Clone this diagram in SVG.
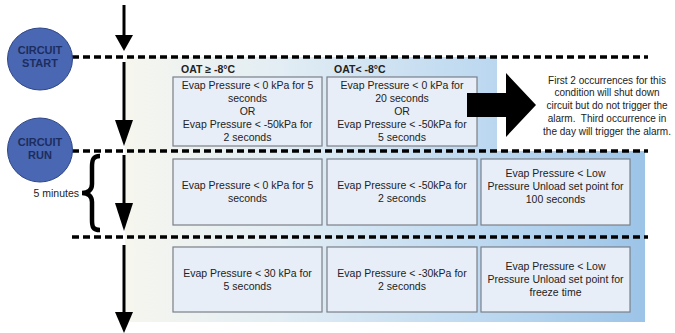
<svg xmlns="http://www.w3.org/2000/svg" width="675" height="333" viewBox="0 0 675 333">
<defs>
<linearGradient id="bg" gradientUnits="userSpaceOnUse" x1="125" y1="0" x2="645" y2="0">
<stop offset="0" stop-color="#f6f6ee"/>
<stop offset="0.3" stop-color="#e2edf4"/>
<stop offset="0.7" stop-color="#bcd8f0"/>
<stop offset="1" stop-color="#9cc4e7"/>
</linearGradient>
<style>
.box{fill:#e8eef7;stroke:#7a7f88;stroke-width:1.2}
.t{font-family:"Liberation Sans",Arial,sans-serif;font-size:10.5px;fill:#222;text-anchor:middle;white-space:pre}
.n{font-family:"Liberation Sans",Arial,sans-serif;font-size:10px;fill:#222;text-anchor:middle;white-space:pre}
.h{font-family:"Liberation Sans",Arial,sans-serif;font-size:10.5px;font-weight:bold;fill:#222}
.c{fill:#4a67b3;stroke:#2f4787;stroke-width:1}
.ct{font-family:"Liberation Sans",Arial,sans-serif;font-size:11px;font-weight:bold;fill:#1d2d5e;text-anchor:middle}
.dash{stroke:#000;stroke-width:3.5;stroke-dasharray:7 4;fill:none}
.shaft{stroke:#000;stroke-width:3;fill:none}
</style>
</defs>
<path d="M125 57 H497 V151 H645 V322 H125 Z" fill="url(#bg)"/>
<g id="connectors">
<line class="dash" x1="72" y1="57" x2="648" y2="57"/>
<line class="dash" x1="72" y1="151" x2="648" y2="151"/>
<line class="dash" x1="72" y1="237" x2="648" y2="237"/>
<line class="shaft" x1="124" y1="5" x2="124" y2="38"/>
<polygon points="115,35 133,35 124,51"/>
<line class="shaft" x1="124" y1="62" x2="124" y2="123"/>
<polygon points="115,120 133,120 124,146"/>
<line class="shaft" x1="124" y1="155" x2="124" y2="206"/>
<polygon points="115,203 133,203 124,231"/>
<line class="shaft" x1="124" y1="245" x2="124" y2="315"/>
<polygon points="115,312 133,312 124,333"/>
<path d="M100 156 C93 156 92 160 92 167 L92 184 C92 190 88 193 82 193 C88 193 92 196 92 202 L92 220 C92 227 93 230 100 230" fill="none" stroke="#000" stroke-width="4.5"/>
</g>
<g id="circuit-start">
<ellipse class="c" cx="40" cy="59" rx="32.5" ry="31"/>
<text class="ct" x="40" y="54">CIRCUIT</text>
<text class="ct" x="40" y="67">START</text>
</g>
<g id="circuit-run">
<ellipse class="c" cx="40" cy="150" rx="32.5" ry="32"/>
<text class="ct" x="40" y="146">CIRCUIT</text>
<text class="ct" x="40" y="159">RUN</text>
</g>
<g id="five-minutes">
<text class="t" x="79" y="197" style="text-anchor:end">5 minutes</text>
</g>
<g id="headers">
<text class="h" x="181" y="73">OAT ≥ -8°C</text>
<text class="h" x="334" y="73">OAT&lt; -8°C</text>
</g>
<g id="r1b1">
<rect class="box" x="173" y="77" width="149" height="69"/>
<text class="t" x="247.5" y="89">Evap Pressure &lt; 0 kPa for 5</text>
<text class="t" x="247.5" y="102">seconds</text>
<text class="t" x="247.5" y="115">OR</text>
<text class="t" x="247.5" y="128">Evap Pressure &lt; -50kPa for</text>
<text class="t" x="247.5" y="141">2 seconds</text>
</g>
<g id="r1b2">
<rect class="box" x="327" y="77" width="150" height="69"/>
<text class="t" x="402" y="89">Evap Pressure &lt; 0 kPa for</text>
<text class="t" x="402" y="102">20 seconds</text>
<text class="t" x="402" y="115">OR</text>
<text class="t" x="402" y="128">Evap Pressure &lt; -50kPa for</text>
<text class="t" x="402" y="141">5 seconds</text>
</g>
<g id="big-arrow">
<polygon points="467,93 506,93 506,73 536,105 506,137 506,117 467,117"/>
</g>
<g id="note">
<text class="n" x="607" y="84">First 2 occurrences for this</text>
<text class="n" x="607" y="96">condition will shut down</text>
<text class="n" x="607" y="109">circuit but do not trigger the</text>
<text class="n" x="607" y="122">alarm.  Third occurrence in</text>
<text class="n" x="607" y="135">the day will trigger the alarm.</text>
</g>
<g id="r2b1">
<rect class="box" x="173" y="159" width="149" height="66"/>
<text class="t" x="247.5" y="189">Evap Pressure &lt; 0 kPa for 5</text>
<text class="t" x="247.5" y="202">seconds</text>
</g>
<g id="r2b2">
<rect class="box" x="327" y="159" width="150" height="66"/>
<text class="t" x="402" y="189">Evap Pressure &lt; -50kPa for</text>
<text class="t" x="402" y="202">2 seconds</text>
</g>
<g id="r2b3">
<rect class="box" x="481" y="159" width="149" height="66"/>
<text class="t" x="555.5" y="177">Evap Pressure &lt; Low</text>
<text class="t" x="555.5" y="190">Pressure Unload set point for</text>
<text class="t" x="555.5" y="203">100 seconds</text>
</g>
<g id="r3b1">
<rect class="box" x="173" y="247" width="149" height="65"/>
<text class="t" x="247.5" y="277">Evap Pressure &lt; 30 kPa for</text>
<text class="t" x="247.5" y="290">5 seconds</text>
</g>
<g id="r3b2">
<rect class="box" x="327" y="247" width="150" height="65"/>
<text class="t" x="402" y="277">Evap Pressure &lt; -30kPa for</text>
<text class="t" x="402" y="290">2 seconds</text>
</g>
<g id="r3b3">
<rect class="box" x="481" y="247" width="149" height="65"/>
<text class="t" x="555.5" y="270">Evap Pressure &lt; Low</text>
<text class="t" x="555.5" y="283">Pressure Unload set point for</text>
<text class="t" x="555.5" y="296">freeze time</text>
</g>
</svg>
